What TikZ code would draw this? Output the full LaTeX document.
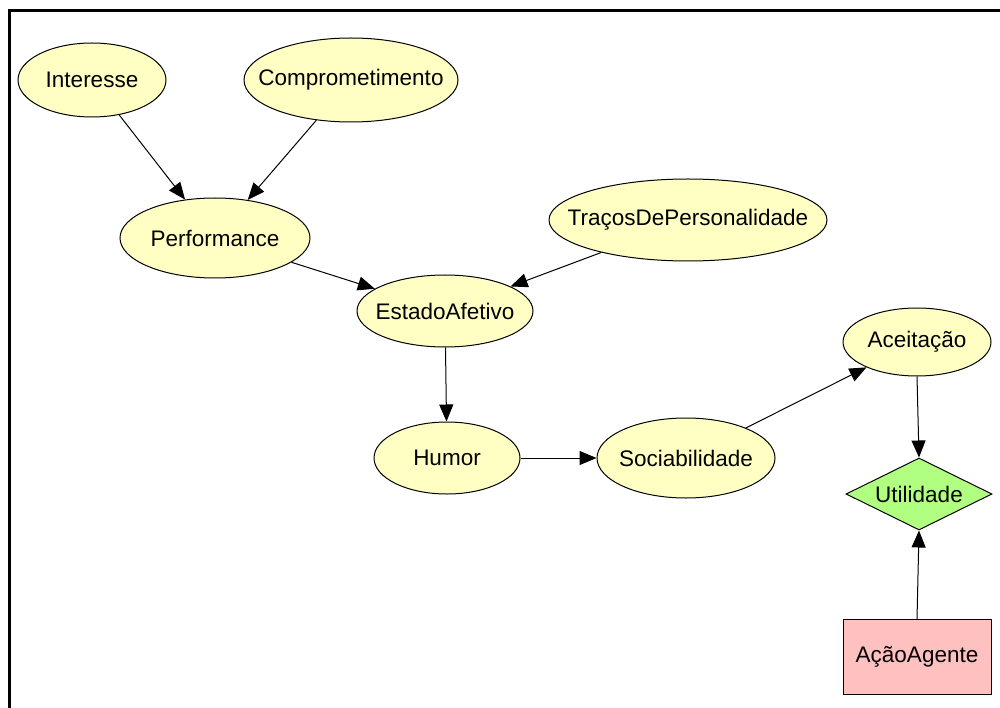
\documentclass[tikz,border=0pt]{standalone}
\usepackage{fontspec}
\setmainfont{Liberation Sans}
\usetikzlibrary{shapes.geometric,arrows.meta}
\definecolor{chance}{RGB}{255,255,196}
\definecolor{utility}{RGB}{176,255,128}
\definecolor{decision}{RGB}{255,192,192}
% zero-width label so the shape size comes from the style alone
\newcommand{\nlabel}[1]{\makebox[0pt][c]{#1}}
\tikzset{
  chancenode/.style={ellipse,draw=black,line width=1pt,fill=chance,inner sep=0pt,
    font=\fontsize{22.5}{26}\selectfont},
  utilnode/.style={diamond,draw=black,line width=1pt,fill=utility,inner sep=0pt,aspect=2,
    minimum width=146pt,minimum height=72pt,font=\fontsize{22.5}{26}\selectfont},
  decnode/.style={rectangle,draw=black,line width=1pt,fill=decision,inner sep=0pt,
    minimum width=148pt,minimum height=75pt,font=\fontsize{22.5}{26}\selectfont},
  link/.style={draw=black,line width=1pt,-{Triangle[length=17pt,width=14pt]}},
}
\begin{document}
\begin{tikzpicture}[x=1pt,y=-1pt]
\useasboundingbox (0,0) rectangle (1000,708);
\fill[white] (0,0) rectangle (1000,708);
% frame edges
\draw[line width=3pt] (9.5,708) -- (9.5,11) -- (1000,11);

% chance nodes
\node[chancenode,minimum width=148pt,minimum height=74pt] (int) at (92,80) {\nlabel{Interesse}};
\node[chancenode,minimum width=214pt,minimum height=84pt] (comp) at (351,80) {\nlabel{Comprometimento}};
\node[chancenode,minimum width=190pt,minimum height=80pt] (perf) at (215,238) {\nlabel{Performance}};
\node[chancenode,minimum width=278pt,minimum height=82pt] (tracos) at (688,220) {\nlabel{TraçosDePersonalidade}};
\node[chancenode,minimum width=176pt,minimum height=72pt] (estado) at (445,311) {\nlabel{EstadoAfetivo}};
\node[chancenode,minimum width=146pt,minimum height=72pt] (humor) at (447,458) {\nlabel{Humor}};
\node[chancenode,minimum width=178pt,minimum height=80pt] (soc) at (686,458) {\nlabel{Sociabilidade}};
\node[chancenode,minimum width=148pt,minimum height=68pt] (aceit) at (917,342) {\nlabel{Aceitação}};

% utility and decision nodes
\node[utilnode] (util) at (919,494) {\nlabel{Utilidade}};
\node[decnode] (acao) at (917,657) {\nlabel{AçãoAgente}};

% links
\draw[link] (int) -- (perf);
\draw[link] (comp) -- (perf);
\draw[link] (perf) -- (estado);
\draw[link] (tracos) -- (estado);
\draw[link] (estado) -- (humor);
\draw[link] (humor) -- (soc);
\draw[link] (soc) -- (aceit);
\draw[link] (aceit.south) -- (util.north);
\draw[link] (acao.north) -- (util.south);
\end{tikzpicture}
\end{document}
